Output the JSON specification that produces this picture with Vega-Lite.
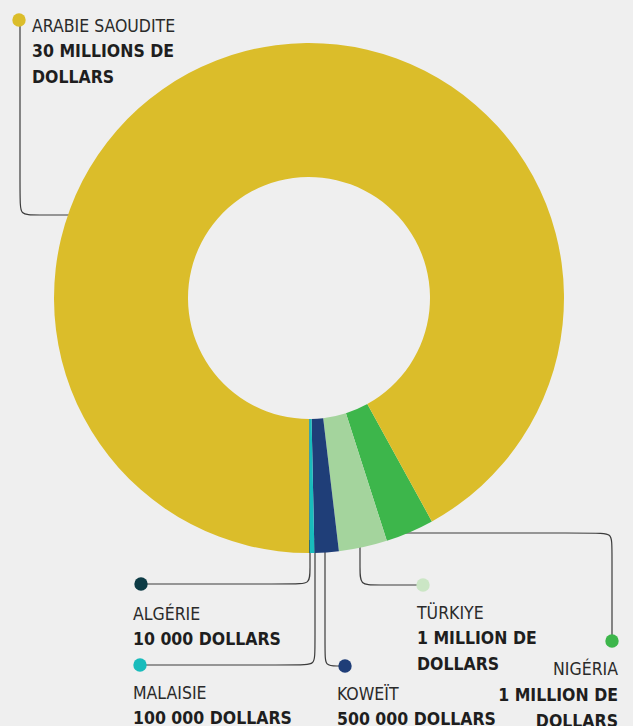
{
  "$schema": "https://vega.github.io/schema/vega-lite/v6.json",
  "width": 618,
  "height": 596,
  "autosize": {"type": "none"},
  "padding": {"left": 0, "top": 0, "right": 15, "bottom": 130},
  "background": "#efefef",
  "config": {"view": {"stroke": null}},
  "datasets": {
    "donations": [
      {"country": "Nigéria", "amount": 1000000, "idx": 1, "name": "NIGÉRIA", "value": "1 MILLION DE\nDOLLARS", "px": 618, "py": 675},
      {"country": "Türkiye", "amount": 1000000, "idx": 2, "name": "TÜRKIYE", "value": "1 MILLION DE\nDOLLARS", "px": 417, "py": 619},
      {"country": "Koweït", "amount": 500000, "idx": 3, "name": "KOWEÏT", "value": "500 000 DOLLARS", "px": 337, "py": 700},
      {"country": "Malaisie", "amount": 100000, "idx": 4, "name": "MALAISIE", "value": "100 000 DOLLARS", "px": 133, "py": 699},
      {"country": "Algérie", "amount": 10000, "idx": 5, "name": "ALGÉRIE", "value": "10 000 DOLLARS", "px": 133, "py": 620},
      {"country": "Arabie saoudite", "amount": 30000000, "idx": 6, "name": "ARABIE SAOUDITE", "value": "30 MILLIONS DE\nDOLLARS", "px": 32, "py": 32}
    ],
    "dots": [
      {"country": "Arabie saoudite", "px": 19, "py": 20},
      {"country": "Algérie", "px": 141, "py": 584},
      {"country": "Malaisie", "px": 140, "py": 665},
      {"country": "Koweït", "px": 345, "py": 666},
      {"country": "Türkiye", "px": 423, "py": 585},
      {"country": "Nigéria", "px": 612, "py": 641}
    ],
    "leaders": [
      {"country": "Arabie saoudite", "k": 1, "px": 20, "py": 20},
      {"country": "Arabie saoudite", "k": 2, "px": 20, "py": 200},
      {"country": "Arabie saoudite", "k": 3, "px": 20, "py": 215},
      {"country": "Arabie saoudite", "k": 4, "px": 35, "py": 215},
      {"country": "Arabie saoudite", "k": 5, "px": 80, "py": 215},
      {"country": "Algérie", "k": 1, "px": 310, "py": 540},
      {"country": "Algérie", "k": 2, "px": 310, "py": 570},
      {"country": "Algérie", "k": 3, "px": 310, "py": 584},
      {"country": "Algérie", "k": 4, "px": 295, "py": 584},
      {"country": "Algérie", "k": 5, "px": 141, "py": 584},
      {"country": "Malaisie", "k": 1, "px": 315, "py": 540},
      {"country": "Malaisie", "k": 2, "px": 315, "py": 650},
      {"country": "Malaisie", "k": 3, "px": 315, "py": 665},
      {"country": "Malaisie", "k": 4, "px": 300, "py": 665},
      {"country": "Malaisie", "k": 5, "px": 140, "py": 665},
      {"country": "Koweït", "k": 1, "px": 325, "py": 540},
      {"country": "Koweït", "k": 2, "px": 325, "py": 653},
      {"country": "Koweït", "k": 3, "px": 325, "py": 666},
      {"country": "Koweït", "k": 4, "px": 338, "py": 666},
      {"country": "Koweït", "k": 5, "px": 345, "py": 666},
      {"country": "Türkiye", "k": 1, "px": 360, "py": 535},
      {"country": "Türkiye", "k": 2, "px": 360, "py": 570},
      {"country": "Türkiye", "k": 3, "px": 360, "py": 585},
      {"country": "Türkiye", "k": 4, "px": 375, "py": 585},
      {"country": "Türkiye", "k": 5, "px": 423, "py": 585},
      {"country": "Nigéria", "k": 1, "px": 395, "py": 533},
      {"country": "Nigéria", "k": 2, "px": 597, "py": 533},
      {"country": "Nigéria", "k": 3, "px": 612, "py": 533},
      {"country": "Nigéria", "k": 4, "px": 612, "py": 548},
      {"country": "Nigéria", "k": 5, "px": 612, "py": 641}
    ]
  },
  "layer": [
    {
      "data": {"name": "leaders"},
      "mark": {"type": "line", "interpolate": "basis", "stroke": "#3c3c3c", "strokeWidth": 1.2},
      "encoding": {
        "x": {"field": "px", "type": "quantitative", "scale": {"domain": [0, 618], "nice": false, "zero": false}, "axis": null},
        "y": {"field": "py", "type": "quantitative", "scale": {"domain": [0, 596], "reverse": true, "nice": false, "zero": false}, "axis": null},
        "detail": {"field": "country", "type": "nominal"},
        "order": {"field": "k", "type": "quantitative"}
      }
    },
    {
      "data": {"name": "donations"},
      "mark": {"type": "arc", "outerRadius": 255, "innerRadius": 121},
      "encoding": {
        "theta": {"field": "amount", "type": "quantitative", "stack": true, "scale": {"range": [2.6387, 8.9219]}},
        "order": {"field": "idx", "type": "quantitative"},
        "color": {
          "field": "country", "type": "nominal", "legend": null,
          "scale": {
            "domain": ["Arabie saoudite", "Nigéria", "Türkiye", "Koweït", "Malaisie", "Algérie"],
            "range": ["#dbbd2a", "#3db64b", "#a4d49d", "#1f3e78", "#19bcbc", "#0d3b45"]
          }
        }
      }
    },
    {
      "data": {"name": "dots"},
      "mark": {"type": "circle", "size": 180, "opacity": 1},
      "encoding": {
        "x": {"field": "px", "type": "quantitative"},
        "y": {"field": "py", "type": "quantitative"},
        "color": {
          "condition": {"test": "datum.country === 'Türkiye'", "value": "#cbe6c5"},
          "field": "country", "type": "nominal", "legend": null
        }
      }
    },
    {
      "data": {"name": "donations"},
      "transform": [{"filter": "datum.country !== 'Nigéria'"}],
      "mark": {"type": "text", "align": "left", "baseline": "alphabetic", "font": "DejaVu Sans Condensed, sans-serif", "fontSize": 17.5, "fontWeight": "normal", "fill": "#2a2a2a"},
      "encoding": {
        "x": {"field": "px", "type": "quantitative"},
        "y": {"field": "py", "type": "quantitative"},
        "text": {"field": "name"}
      }
    },
    {
      "data": {"name": "donations"},
      "transform": [{"filter": "datum.country !== 'Nigéria'"}],
      "mark": {"type": "text", "align": "left", "baseline": "alphabetic", "dy": 25, "lineBreak": "\n", "lineHeight": 25.5, "font": "DejaVu Sans Condensed, sans-serif", "fontSize": 17.5, "fontWeight": "bold", "fill": "#1e1e1e"},
      "encoding": {
        "x": {"field": "px", "type": "quantitative"},
        "y": {"field": "py", "type": "quantitative"},
        "text": {"field": "value"}
      }
    },
    {
      "data": {"name": "donations"},
      "transform": [{"filter": "datum.country === 'Nigéria'"}],
      "mark": {"type": "text", "align": "right", "baseline": "alphabetic", "font": "DejaVu Sans Condensed, sans-serif", "fontSize": 17.5, "fontWeight": "normal", "fill": "#2a2a2a"},
      "encoding": {
        "x": {"field": "px", "type": "quantitative"},
        "y": {"field": "py", "type": "quantitative"},
        "text": {"field": "name"}
      }
    },
    {
      "data": {"name": "donations"},
      "transform": [{"filter": "datum.country === 'Nigéria'"}],
      "mark": {"type": "text", "align": "right", "baseline": "alphabetic", "dy": 26, "lineBreak": "\n", "lineHeight": 25.5, "font": "DejaVu Sans Condensed, sans-serif", "fontSize": 17.5, "fontWeight": "bold", "fill": "#1e1e1e"},
      "encoding": {
        "x": {"field": "px", "type": "quantitative"},
        "y": {"field": "py", "type": "quantitative"},
        "text": {"field": "value"}
      }
    }
  ]
}
